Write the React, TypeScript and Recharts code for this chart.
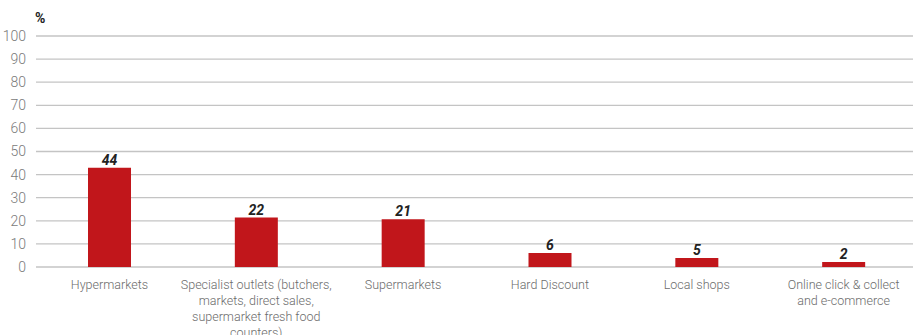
import React from "react";
import { BarChart, Bar, XAxis, YAxis, CartesianGrid, LabelList } from "recharts";

const categories = [
  "Hypermarkets",
  "Specialist outlets (butchers,\nmarkets, direct sales,\nsupermarket fresh food\ncounters)",
  "Supermarkets",
  "Hard Discount",
  "Local shops",
  "Online click & collect\nand e-commerce",
];
const barValues = [43, 21.4, 20.7, 6.1, 3.9, 2.2];
const valueLabels = ["44", "22", "21", "6", "5", "2"];
const yTicks = [0, 10, 20, 30, 40, 50, 60, 70, 80, 90, 100];

const data = categories.map((c, i) => ({ name: c, value: barValues[i], label: valueLabels[i] }));

const FONT = "Roboto, 'Liberation Sans', sans-serif";

const CatTick = (props: any) => {
  const { x, y, payload } = props;
  const lines = String(payload.value).split("\n");
  return (
    <text
      x={x}
      y={y + 14}
      textAnchor="middle"
      fontSize={12.5}
      fontFamily={FONT}
      fontWeight={300}
      fill="#6b6b6b"
    >
      {lines.map((l, i) => (
        <tspan key={i} x={x} dy={i === 0 ? 0 : 16}>
          {l}
        </tspan>
      ))}
    </text>
  );
};

const ValueLabel = (props: any) => {
  const { x, y, width, index } = props;
  return (
    <text
      x={x + width / 2}
      y={y - 3}
      textAnchor="middle"
      fontSize={14}
      fontWeight={700}
      fontStyle="italic"
      fontFamily={FONT}
      fill="#222"
    >
      {data[index].label}
    </text>
  );
};

export default function App() {
  return (
    <div style={{ position: "absolute", left: 0, top: 0, width: 913, height: 335, overflow: "hidden", background: "#fff" }}>
      <div style={{ position: "absolute", left: 35, top: 10, fontFamily: FONT, fontWeight: 700, fontSize: 14, color: "#222" }}>%</div>
      <BarChart width={917} height={335} data={data} margin={{ top: 36, right: 0, bottom: 8, left: 0 }}>
        <CartesianGrid vertical={false} stroke="#c4c4c4" strokeWidth={1.3} />
        <YAxis
          width={36}
          domain={[0, 100]}
          ticks={yTicks}
          interval={0}
          axisLine={false}
          tickLine={false}
          tickMargin={4}
          tick={{ fontSize: 14, fill: "#7a7a7a", fontFamily: FONT, fontWeight: 300 }}
        />
        <XAxis dataKey="name" axisLine={false} tickLine={false} height={60} interval={0} tick={<CatTick />} />
        <Bar dataKey="value" fill="#c1161b" barSize={43} isAnimationActive={false}>
          <LabelList dataKey="label" content={<ValueLabel />} />
        </Bar>
      </BarChart>
    </div>
  );
}
